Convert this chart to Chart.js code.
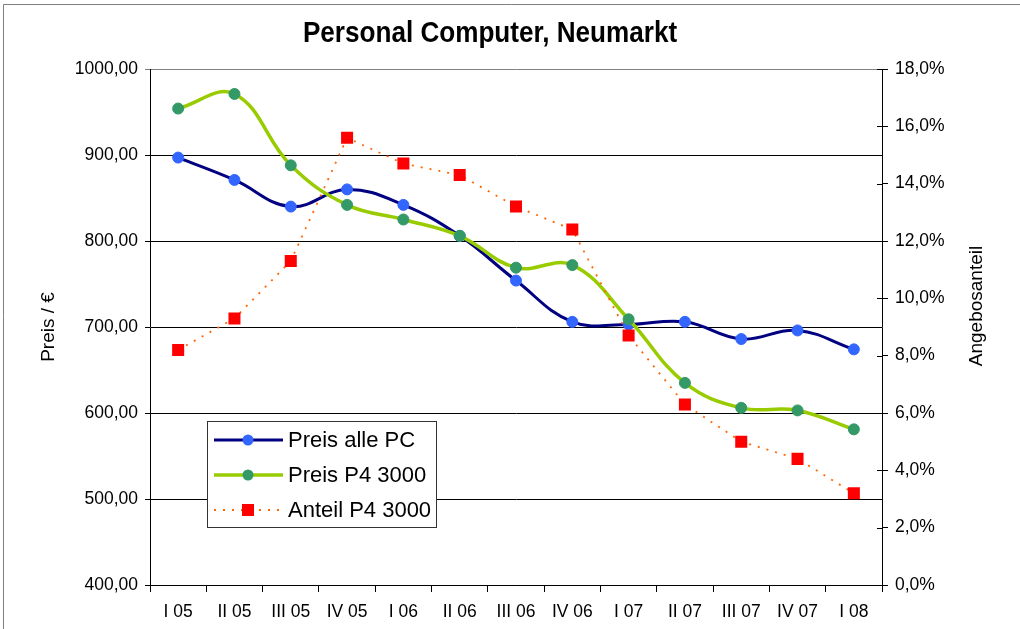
<!DOCTYPE html>
<html>
<head>
<meta charset="utf-8">
<title>Personal Computer, Neumarkt</title>
<script src="https://cdn.jsdelivr.net/npm/chart.js@4/dist/chart.umd.min.js"></script>
<style>
    html, body { margin: 0; padding: 0; background: #fff; }
    #wrap { position: relative; width: 1020px; height: 629px; }
</style>
</head>
<body>
<div id="wrap"><canvas id="pcChart" width="1020" height="629"></canvas></div>
<script>
// Quartale
var quartale = ['I 05', 'II 05', 'III 05', 'IV 05', 'I 06', 'II 06', 'III 06', 'IV 06', 'I 07', 'II 07', 'III 07', 'IV 07', 'I 08'];

// Preise in Euro (linke Achse)
var preisAllePC = [897, 871, 840, 860, 842, 806, 754, 706, 703, 706, 686, 696, 674];
var preisP43000 = [954, 971, 888, 842, 825, 806, 769, 772, 709, 635, 606, 603, 581];

// Angebotsanteil in % (rechte Achse)
var anteilP43000 = [8.2, 9.3, 11.3, 15.6, 14.7, 14.3, 13.2, 12.4, 8.7, 6.3, 5.0, 4.4, 3.2];

// Achsen: min, max, schritt
var preisAchse = [400, 1000, 100];
var anteilAchse = [0, 18, 2];

var schrift = "'Liberation Sans', Arial, sans-serif";

function komma(v, stellen) {
    return v.toFixed(stellen).replace('.', ',');
}

// Rahmen, Titel, rechte Achse, Legende
var extras = {
    id: 'extras',
    beforeDraw: function(chart) {
        var ctx = chart.ctx;
        ctx.save();
        ctx.fillStyle = '#fff';
        ctx.fillRect(0, 0, chart.width, chart.height);
        ctx.restore();
    },
    afterDraw: function(chart) {
        var ctx = chart.ctx;
        var area = chart.chartArea;
        var y1 = chart.scales.y1;
        ctx.save();

        // aeusserer Rahmen
        ctx.strokeStyle = '#7f7f7f';
        ctx.lineWidth = 1;
        ctx.beginPath();
        ctx.moveTo(3.5, chart.height);
        ctx.lineTo(3.5, 4.5);
        ctx.lineTo(chart.width, 4.5);
        ctx.stroke();

        // Titel (etwas schmaler wie im Original)
        ctx.save();
        ctx.translate(490, 34);
        ctx.scale(0.9, 1);
        ctx.fillStyle = '#000';
        ctx.font = 'bold 29px ' + schrift;
        ctx.textAlign = 'center';
        ctx.textBaseline = 'middle';
        ctx.fillText('Personal Computer, Neumarkt', 0, 0);
        ctx.restore();

        // Teilstriche rechts auch nach innen
        ctx.strokeStyle = '#000';
        ctx.beginPath();
        y1.ticks.forEach(function(t) {
            var py = Math.round(y1.getPixelForValue(t.value)) + 0.5;
            ctx.moveTo(area.right - 5, py);
            ctx.lineTo(area.right, py);
        });
        ctx.stroke();

        // rechter Achsentitel
        ctx.save();
        ctx.translate(977, 306);
        ctx.rotate(-Math.PI / 2);
        ctx.fillStyle = '#000';
        ctx.font = '19px ' + schrift;
        ctx.textAlign = 'center';
        ctx.textBaseline = 'middle';
        ctx.fillText('Angebosanteil', 0, 0);
        ctx.restore();

        // Legende
        var lx = 207, ly = 421, lw = 229, lh = 106;
        ctx.fillStyle = '#fff';
        ctx.fillRect(lx, ly, lw, lh);
        ctx.strokeStyle = '#333';
        ctx.lineWidth = 1;
        ctx.strokeRect(lx + 0.5, ly + 0.5, lw, lh);

        var reihen = [440, 475, 510];
        chart.data.datasets.forEach(function(ds, i) {
            var ry = reihen[i];
            ctx.save();
            ctx.strokeStyle = ds.borderColor;
            ctx.lineWidth = ds.borderWidth;
            ctx.setLineDash(ds.borderDash || []);
            ctx.beginPath();
            ctx.moveTo(214, ry);
            ctx.lineTo(283, ry);
            ctx.stroke();
            ctx.restore();

            ctx.fillStyle = ds.pointBackgroundColor;
            if (ds.pointStyle === 'rect') {
                ctx.fillRect(242, ry - 6, 12, 12);
            } else {
                ctx.beginPath();
                ctx.arc(248, ry, 5.5, 0, Math.PI * 2);
                ctx.fill();
            }

            ctx.fillStyle = '#000';
            ctx.font = '22px ' + schrift;
            ctx.textAlign = 'left';
            ctx.textBaseline = 'middle';
            ctx.fillText(ds.label, 288, ry + 1);
        });

        ctx.restore();
    }
};

var ctx = document.getElementById('pcChart').getContext('2d');

var pcChart = new Chart(ctx, {
    type: 'line',
    data: {
        labels: quartale,
        datasets: [
            {
                label: 'Preis alle PC',
                data: preisAllePC,
                yAxisID: 'y',
                borderColor: '#000080',
                borderWidth: 3,
                tension: 0.4,
                pointRadius: 5.5,
                pointBackgroundColor: '#3366ff',
                pointBorderColor: '#3366ff',
                pointBorderWidth: 1,
                order: 3
            },
            {
                label: 'Preis P4 3000',
                data: preisP43000,
                yAxisID: 'y',
                borderColor: '#99cc00',
                borderWidth: 3.5,
                tension: 0.4,
                pointRadius: 5.5,
                pointBackgroundColor: '#339966',
                pointBorderColor: '#339966',
                pointBorderWidth: 1,
                order: 2
            },
            {
                label: 'Anteil P4 3000',
                data: anteilP43000,
                yAxisID: 'y1',
                borderColor: '#ff6600',
                borderWidth: 1.8,
                borderDash: [2, 7],
                tension: 0,
                pointStyle: 'rect',
                pointRadius: 8.5,
                pointBackgroundColor: '#ff0000',
                pointBorderColor: '#ff0000',
                pointBorderWidth: 0,
                order: 1
            }
        ]
    },
    options: {
        responsive: false,
        animation: false,
        devicePixelRatio: 1,
        layout: {
            padding: { top: 69, left: 0, right: 0, bottom: 0 }
        },
        plugins: {
            legend: { display: false },
            title: { display: false },
            tooltip: { enabled: false }
        },
        scales: {
            x: {
                offset: true,
                grid: {
                    offset: true,
                    drawOnChartArea: false,
                    tickLength: 7,
                    color: '#000'
                },
                border: { color: '#000', width: 1 },
                ticks: {
                    color: '#000',
                    padding: 10,
                    maxRotation: 0,
                    autoSkip: false,
                    font: { family: schrift, size: 17.5 }
                },
                afterFit: function(scale) { scale.height = 44; }
            },
            y: {
                position: 'left',
                min: preisAchse[0],
                max: preisAchse[1],
                grid: {
                    tickLength: 5,
                    color: function(c) {
                        return c.tick && c.tick.value === preisAchse[1] ? '#808080' : '#000';
                    }
                },
                border: { color: '#000', width: 1 },
                ticks: {
                    stepSize: preisAchse[2],
                    color: '#000',
                    padding: 7,
                    font: { family: schrift, size: 17.5 },
                    callback: function(v) { return komma(v, 2); }
                },
                title: {
                    display: true,
                    text: 'Preis / €',
                    color: '#000',
                    font: { family: schrift, size: 19 },
                    padding: { top: 37, bottom: 0 }
                },
                afterFit: function(scale) { scale.width = 150; }
            },
            y1: {
                position: 'right',
                min: anteilAchse[0],
                max: anteilAchse[1],
                grid: {
                    drawOnChartArea: false,
                    tickLength: 6,
                    color: '#000'
                },
                border: { color: '#000', width: 1 },
                ticks: {
                    stepSize: anteilAchse[2],
                    color: '#000',
                    padding: 7,
                    font: { family: schrift, size: 17.5 },
                    callback: function(v) { return komma(v, 1) + '%'; }
                },
                afterFit: function(scale) { scale.width = 138; }
            }
        }
    },
    plugins: [extras]
});
</script>
</body>
</html>
